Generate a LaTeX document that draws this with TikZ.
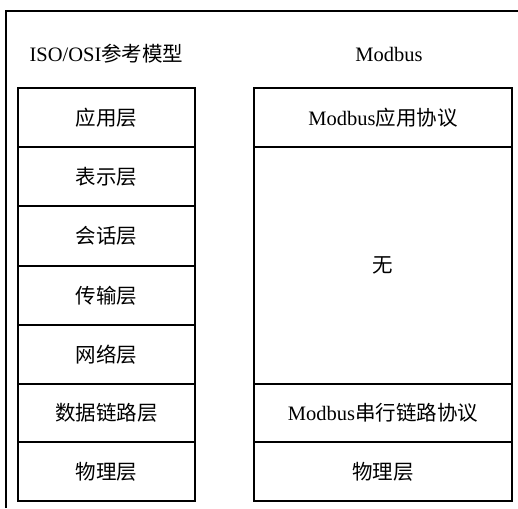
\documentclass[tikz,border=0pt]{standalone}
\usepackage{fontspec}
\setmainfont{Liberation Serif}
\newfontfamily\cjk{Noto Sans CJK SC}
\begin{document}
\begin{tikzpicture}[x=1pt,y=-1pt,
  box/.style={draw, line width=1.5pt, rectangle, inner sep=0pt, font=\fontsize{20.5}{24}\selectfont},
  lbox/.style={box, minimum width=177pt, minimum height=59pt},
  rbox/.style={box, minimum width=258pt, minimum height=59pt},
  ttl/.style={font=\fontsize{20.5}{24}\selectfont, inner sep=0pt}]
\useasboundingbox (0,0) rectangle (518,508);
\draw[line width=1.5pt] (6,508) -- (6,11) -- (518,11);
\node[ttl] (t1) at (106.5,54) {ISO/OSI{\cjk 参考模型}};
\node[ttl] (t2) at (389,54) {Modbus};
\node[lbox] (l1) at (106.5,117.5) {\cjk 应用层};
\node[lbox] (l2) at (106.5,176.5) {\cjk 表示层};
\node[lbox] (l3) at (106.5,236) {\cjk 会话层};
\node[lbox] (l4) at (106.5,295.5) {\cjk 传输层};
\node[lbox] (l5) at (106.5,354.5) {\cjk 网络层};
\node[lbox] (l6) at (106.5,413) {\cjk 数据链路层};
\node[lbox] (l7) at (106.5,471.5) {\cjk 物理层};
\node[rbox] (r1) at (383,117.5) {Modbus{\cjk 应用协议}};
\node[rbox, minimum height=237pt] (r2) at (383,265.5) {\cjk 无};
\node[rbox] (r3) at (383,413) {Modbus{\cjk 串行链路协议}};
\node[rbox] (r4) at (383,471.5) {\cjk 物理层};
\end{tikzpicture}
\end{document}
